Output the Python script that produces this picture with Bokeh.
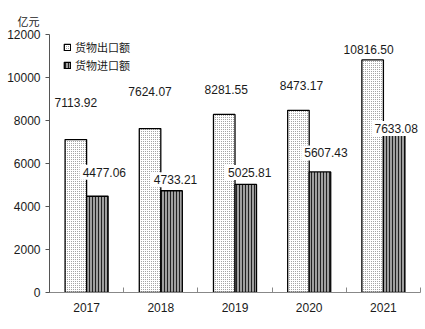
from bokeh.plotting import figure
from bokeh.models import (ColumnDataSource, Range1d, FixedTicker,
                          Legend, LegendItem)
from bokeh.core.properties import value
from bokeh.embed import file_html
from bokeh.resources import INLINE

# ---- data ----
years = ["2017", "2018", "2019", "2020", "2021"]
export_vals = [7113.92, 7624.07, 8281.55, 8473.17, 10816.50]
import_vals = [4477.06, 4733.21, 5025.81, 5607.43, 7633.08]
y_ticks = [0, 2000, 4000, 6000, 8000, 10000, 12000]
unit_text = "亿元"
series_names = ["货物出口额", "货物进口额"]

# ---- label placement (screen px offsets, layout only; dy = pixels above bar top) ----
exp_dx = [0, 0, 2, 3, -4]
exp_dy = [37, 37, 25, 25, 10]
imp_dx = [7, 4, 4, 6, 2]
imp_dy = [24, 11, 12, 19, 0]

NUM_FONT = "Liberation Sans"
CJK_FONT = "Noto Sans CJK SC"
TXT = "#1a1a1a"

n = len(years)
centers = [i + 0.5 for i in range(n)]
BW = 0.29

src_e = ColumnDataSource(dict(
    x=[c - BW / 2 for c in centers], top=export_vals,
    label=[f"{v:.2f}" for v in export_vals], dx=exp_dx, dy=[-d for d in exp_dy]))
src_i = ColumnDataSource(dict(
    x=[c + BW / 2 for c in centers], top=import_vals,
    label=[f"{v:.2f}" for v in import_vals], dx=imp_dx, dy=[-d for d in imp_dy]))

p = figure(width=425, height=329, x_range=Range1d(0, n), y_range=Range1d(y_ticks[0], y_ticks[-1]),
           output_backend="svg", toolbar_location=None,
           min_border_left=49, min_border_right=5, min_border_top=34, min_border_bottom=37)
p.outline_line_color = None
p.xgrid.visible = False
p.ygrid.visible = False
p.background_fill_color = "white"
p.border_fill_color = "white"

p.title.text = unit_text
p.title.align = "left"
p.title.offset = -32
p.title.standoff = 12
p.title.text_font = CJK_FONT
p.title.text_font_size = "11px"
p.title.text_font_style = "normal"
p.title.text_color = TXT

r_e = p.vbar(x="x", top="top", width=BW, bottom=0, source=src_e,
             fill_color="white", hatch_pattern="dot", hatch_scale=2, hatch_color="#888888",
             hatch_weight=1, line_color="black", line_width=1.3)
r_i = p.vbar(x="x", top="top", width=BW, bottom=0, source=src_i,
             fill_color="#a0a0a0", hatch_pattern="vertical_line", hatch_scale=3, hatch_color="#222222",
             hatch_weight=1, line_color="black", line_width=1.3)

for src in (src_e, src_i):
    p.text(x="x", y="top", text="label", x_offset="dx", y_offset="dy", source=src,
           text_align="center", text_baseline="middle",
           text_font=value(NUM_FONT), text_font_size=value("12px"), text_color=TXT,
           background_fill_color="white", padding=3)

# axes
xa = p.xaxis[0]
xa.ticker = FixedTicker(ticks=centers, minor_ticks=list(range(n + 1)))
xa.major_label_overrides = {c: y for c, y in zip(centers, years)}
xa.major_tick_in = 0
xa.major_tick_out = 0
xa.minor_tick_in = 5
xa.minor_tick_out = 0
xa.minor_tick_line_color = "#888888"
xa.axis_line_color = "#888888"
xa.major_label_standoff = 10
xa.major_label_text_font = NUM_FONT
xa.major_label_text_font_size = "12px"
xa.major_label_text_color = TXT

ya = p.yaxis[0]
ya.ticker = FixedTicker(ticks=y_ticks)
ya.major_tick_in = 0
ya.major_tick_out = 4
ya.minor_tick_line_color = None
ya.axis_line_color = "#555555"
ya.major_tick_line_color = "#555555"
ya.major_label_standoff = 5
ya.major_label_text_font = NUM_FONT
ya.major_label_text_font_size = "12px"
ya.major_label_text_color = TXT

legend = Legend(items=[LegendItem(label=series_names[0], renderers=[r_e]),
                       LegendItem(label=series_names[1], renderers=[r_i])],
                location=(14, 218), padding=0, spacing=0, margin=0,
                border_line_color=None, background_fill_alpha=0,
                glyph_width=8, glyph_height=8, label_height=18, label_standoff=4,
                label_text_font=CJK_FONT, label_text_font_size="11px", label_text_color=TXT)
p.add_layout(legend)

open("out.html", "w").write(file_html(p, INLINE))
